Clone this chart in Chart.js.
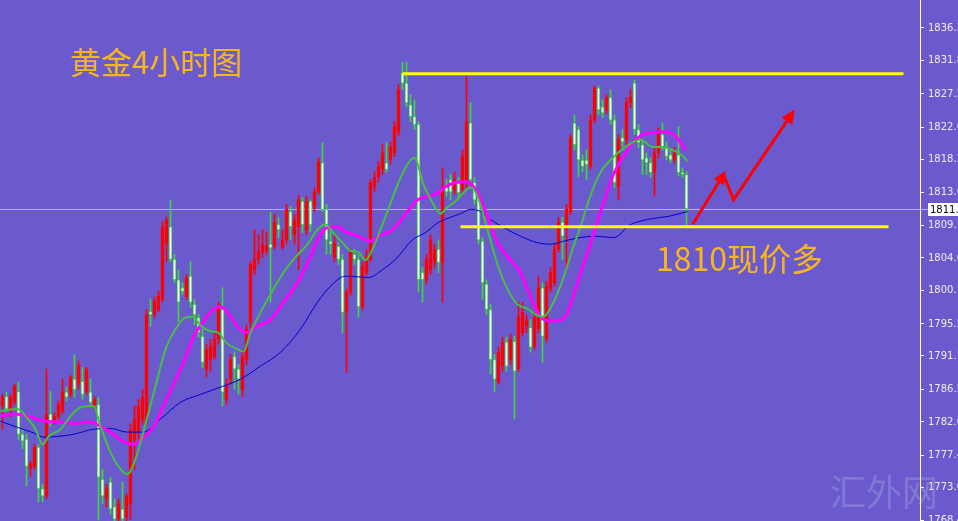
<!DOCTYPE html>
<html lang="zh">
<head>
<meta charset="UTF-8">
<title>黄金4小时图</title>
<script src="https://cdn.jsdelivr.net/npm/chart.js@4.4.1/dist/chart.umd.min.js"></script>
<style>
  html, body { margin: 0; padding: 0; background: #6a5acd; overflow: hidden; }
  canvas { display: block; }
</style>
</head>
<body>
<canvas id="goldChart" width="958" height="521"></canvas>
<script>
// 4h gold bars, index 0 = leftmost bar
const candleOpen = [
  1784.2,1785.5,1783.5,1784.7,1786.2,1780.3,1779.6,1775.6,1775.8,1778.5,
  1772.8,1771.8,1783.1,1782.1,1782.7,1783.5,1786.1,1785.8,1787.9,1787.2,
  1787.6,1786.2,1786.1,1784.3,1784.4,1774.1,1771.4,1773.7,1770.3,1768.6,
  1770.0,1768.9,1770.7,1779.6,1780.6,1782.4,1782.0,1797.2,1796.8,1797.5,
  1798.9,1806.5,1808.9,1804.4,1801.6,1800.5,1799.3,1802.1,1798.2,1796.4,
  1793.8,1789.3,1790.6,1791.0,1793.4,1797.5,1785.1,1787.9,1791.0,1789.3,
  1786.5,1790.6,1795.7,1803.0,1804.4,1805.4,1805.5,1806.5,1806.2,1809.2,
  1806.0,1807.1,1811.0,1807.8,1808.9,1812.4,1808.5,1812.4,1811.7,1813.7,
  1817.7,1811.3,1806.9,1804.7,1806.2,1804.4,1797.1,1799.9,1805.1,1804.4,
  1797.9,1802.6,1804.4,1814.4,1815.8,1816.8,1817.7,1818.1,1819.1,1821.9,
  1830.1,1828.7,1825.7,1824.1,1823.0,1802.6,1801.6,1803.0,1804.0,1805.8,
  1804.0,1814.4,1815.4,1814.0,1815.0,1814.0,1815.0,1823.2,1815.0,1813.1,
  1806.9,1801.0,1797.5,1790.6,1787.5,1789.7,1793.0,1790.6,1793.1,1789.3,
  1794.3,1795.2,1795.0,1792.4,1794.8,1800.5,1793.4,1800.3,1801.2,1805.8,
  1809.5,1808.5,1810.9,1823.2,1822.3,1818.1,1818.1,1817.2,1823.6,1828.0,
  1825.4,1825.0,1826.7,1823.6,1814.4,1821.2,1820.9,1826.0,1828.7,1822.3,
  1820.2,1818.4,1817.7,1816.4,1819.1,1821.6,1819.9,1818.8,1818.1,1818.8,
  1816.4,1816.1
];
const candleHigh = [
  1785.8,1786.1,1785.8,1787.2,1787.5,1781.0,1780.3,1776.6,1778.9,1778.9,
  1773.4,1789.3,1786.2,1783.3,1784.9,1787.9,1786.8,1788.4,1791.3,1790.4,
  1789.5,1789.5,1787.9,1785.5,1785.4,1775.5,1773.4,1774.4,1771.4,1771.4,
  1773.7,1772.1,1781.7,1784.2,1785.1,1786.5,1797.5,1798.9,1799.2,1800.0,
  1809.6,1810.3,1812.6,1805.1,1803.0,1801.2,1802.3,1804.1,1798.9,1796.8,
  1794.8,1792.7,1793.4,1794.5,1798.5,1800.5,1787.9,1791.3,1791.7,1789.9,
  1792.0,1795.4,1804.1,1808.5,1807.8,1808.5,1808.2,1810.9,1810.6,1810.2,
  1808.5,1812.0,1811.7,1810.6,1813.3,1812.9,1813.1,1812.6,1814.3,1818.4,
  1820.5,1812.0,1808.2,1807.8,1806.7,1805.1,1800.3,1805.8,1805.8,1805.1,
  1804.1,1805.8,1815.4,1816.5,1817.9,1820.2,1820.5,1820.6,1823.4,1828.5,
  1831.6,1831.6,1827.1,1826.4,1823.4,1803.3,1805.1,1807.8,1806.5,1807.1,
  1817.0,1815.4,1816.1,1816.5,1815.7,1819.5,1829.6,1826.0,1815.7,1813.6,
  1807.4,1801.6,1798.2,1791.3,1792.3,1793.7,1793.7,1794.1,1793.8,1798.5,
  1798.5,1796.8,1796.1,1797.1,1802.1,1801.2,1801.4,1803.3,1806.5,1810.2,
  1810.2,1812.0,1821.6,1824.3,1822.7,1818.8,1819.5,1824.3,1828.3,1828.3,
  1826.4,1827.1,1827.8,1824.3,1821.6,1822.3,1826.7,1827.8,1829.1,1823.0,
  1820.9,1819.1,1818.4,1819.8,1822.5,1823.2,1820.6,1819.5,1819.8,1822.7,
  1817.0,1816.5
];
const candleLow = [
  1781.0,1783.5,1782.7,1784.4,1779.6,1778.3,1773.2,1774.5,1775.5,1771.0,
  1771.0,1771.4,1781.4,1781.7,1782.4,1783.1,1784.9,1785.4,1785.4,1786.5,
  1785.1,1785.8,1784.4,1783.8,1768.5,1770.7,1770.3,1769.3,1767.9,1767.9,
  1767.9,1767.9,1768.6,1775.5,1779.6,1781.7,1781.7,1795.2,1796.4,1797.2,
  1798.6,1804.1,1804.1,1801.2,1795.9,1799.6,1798.9,1797.8,1795.4,1793.7,
  1789.5,1788.2,1789.0,1790.6,1792.7,1784.2,1784.4,1787.2,1786.5,1785.8,
  1785.5,1789.9,1795.0,1802.3,1803.7,1804.7,1805.1,1798.5,1805.8,1807.4,
  1805.8,1806.5,1807.1,1806.5,1803.0,1808.1,1807.8,1808.2,1811.0,1813.3,
  1811.0,1805.1,1805.1,1804.1,1803.7,1794.3,1788.8,1799.4,1803.7,1796.4,
  1797.5,1802.2,1804.1,1813.7,1815.1,1816.1,1816.4,1817.5,1818.6,1821.4,
  1827.8,1825.4,1823.4,1822.3,1799.9,1798.5,1801.0,1802.3,1803.3,1802.6,
  1798.5,1813.1,1812.6,1813.3,1812.9,1813.3,1814.3,1814.7,1812.0,1806.5,
  1798.9,1796.8,1788.6,1786.2,1787.2,1789.0,1789.0,1789.9,1782.4,1789.0,
  1793.8,1794.3,1791.6,1792.0,1794.3,1790.2,1793.1,1799.9,1800.7,1805.4,
  1804.4,1803.0,1810.6,1819.5,1815.8,1816.5,1815.4,1816.8,1823.2,1824.3,
  1823.9,1824.5,1823.0,1814.3,1812.6,1819.9,1820.2,1825.3,1821.6,1819.8,
  1816.1,1816.1,1815.7,1813.1,1818.4,1819.5,1818.1,1817.7,1817.7,1815.9,
  1815.7,1808.9
];
const candleClose = [
  1785.5,1783.8,1785.4,1786.9,1780.3,1779.4,1775.9,1776.2,1778.5,1772.8,
  1771.8,1783.1,1782.1,1782.8,1784.4,1786.1,1785.4,1788.2,1786.5,1789.9,
  1785.8,1789.3,1784.7,1785.1,1774.4,1771.8,1772.8,1770.0,1768.6,1770.7,
  1768.6,1771.7,1781.0,1782.4,1784.2,1785.5,1796.8,1796.8,1798.6,1799.3,
  1808.9,1809.9,1804.4,1801.6,1798.5,1800.0,1801.9,1798.5,1796.8,1794.3,
  1790.2,1792.0,1792.4,1793.4,1797.9,1786.1,1786.9,1790.6,1789.3,1787.9,
  1791.0,1794.8,1803.7,1804.4,1805.5,1806.5,1806.2,1806.0,1809.5,1808.5,
  1807.1,1811.3,1808.9,1809.9,1812.6,1809.2,1812.4,1809.2,1813.7,1817.9,
  1811.3,1807.1,1806.5,1806.7,1804.4,1797.1,1799.9,1805.4,1804.4,1797.9,
  1803.4,1804.8,1815.0,1815.7,1817.2,1819.1,1816.8,1819.9,1822.7,1827.8,
  1828.7,1826.0,1824.1,1823.0,1801.6,1801.6,1804.4,1807.1,1805.8,1804.0,
  1814.4,1813.7,1813.7,1815.4,1813.6,1818.6,1823.4,1815.4,1812.6,1807.1,
  1801.2,1797.5,1790.6,1787.9,1791.6,1793.0,1789.7,1793.4,1789.0,1796.5,
  1797.1,1796.1,1792.3,1796.4,1800.5,1793.8,1800.7,1802.6,1805.8,1809.5,
  1807.6,1811.3,1821.2,1820.2,1818.1,1817.2,1817.5,1823.6,1828.0,1825.0,
  1824.6,1826.7,1823.6,1815.0,1820.9,1820.6,1826.0,1826.8,1822.3,1820.5,
  1818.1,1817.7,1816.4,1819.1,1821.9,1819.9,1818.6,1818.1,1819.1,1816.4,
  1816.1,1811.4
];

// moving averages, sampled along the curves (bar index, price)
const maFastIdx = [-0.5,3.75,5.75,8.25,10,11.5,14.5,17,19.5,22.75,24.5,27,29.5,31.25,33.25,35.75,38.25,40.75,43.25,45.75,47.75,49.5,52,54,55.75,58.75,60.25,62,64.5,67,70.25,72.75,76.25,78.75,80.75,82.5,85,87,89,90.75,92.5,95.75,99,101.5,103,105.25,107.5,109.5,111,113.25,115.25,117,118.75,121.25,123.75,126.25,128.75,131.25,133.25,135.25,137.75,140.25,142.5,144.5,147,149.5,152,155.75,159.5,162.5,165,167.5,170,171.25];
const maFastVal = [1783.5,1783.8,1782.8,1781.0,1778.9,1780.0,1781.0,1782.8,1784.0,1784.2,1781.4,1777.8,1775.5,1774.8,1776.9,1781.7,1786.9,1792.0,1794.8,1796.4,1796.5,1795.3,1794.5,1794.3,1793.0,1792.0,1791.7,1794.3,1797.1,1799.6,1802.6,1804.4,1806.5,1808.5,1809.2,1808.2,1806.7,1805.6,1805.4,1804.3,1805.8,1810.3,1815.0,1817.7,1818.4,1814.7,1812.2,1810.7,1811.5,1812.4,1813.6,1814.3,1813.1,1808.5,1803.7,1800.3,1798.2,1797.6,1796.8,1796.5,1798.5,1801.9,1805.8,1808.9,1813.2,1816.4,1818.1,1819.9,1820.9,1819.9,1819.9,1819.5,1818.7,1817.9];
const maMidIdx = [-0.5,3.25,7,10.75,14.5,18.25,22,24.5,27,30,32.75,35.25,37.75,40.25,42.75,45.25,47.75,50.25,52.75,54.5,56.25,58.75,60.75,63.75,67,70.25,73.75,77,78.75,81.25,83.75,85.75,89,92,94,97.5,100.75,103.75,106.5,109,110.75,113.25,116.25,118.75,121.25,123.75,126.25,129.5,132,134.5,137,139.5,141.25,143.25,146.5,149.5,152.75,156.25,160,163.25,165.75,168.25,170.75];
const maMidVal = [1782.8,1783.1,1782.7,1782.1,1782.0,1781.8,1782.0,1781.4,1780.6,1779.4,1778.9,1779.9,1781.3,1784.2,1787.2,1790.2,1793.7,1795.9,1797.5,1797.9,1797.1,1795.2,1794.3,1795.2,1796.1,1798.5,1801.2,1804.8,1807.1,1808.8,1808.9,1808.2,1807.6,1806.9,1807.6,1808.5,1810.6,1812.6,1813.1,1813.6,1814.4,1815.0,1815.1,1813.6,1810.3,1806.7,1804.8,1802.6,1799.3,1796.5,1795.9,1796.0,1797.1,1800.3,1805.8,1810.9,1816.1,1819.5,1821.6,1821.9,1822.0,1821.4,1819.5];
const maSlowIdx = [-0.5,4.5,7.75,10.25,13.75,17.75,22.75,27,31.25,35.25,39.5,44.5,49.5,54.5,59.5,64.5,69.5,74.5,78.75,82,85.75,91.5,95,98.25,102.5,105.75,109,112.5,114.5,117,119.5,122,125.25,129.5,133.75,137,140.25,143.25,148.25,152.75,157,161.25,167,171.25];
const maSlowVal = [1782.1,1781.1,1780.5,1779.9,1780.0,1780.3,1781.0,1781.1,1780.6,1780.6,1782.4,1784.7,1785.8,1786.8,1787.9,1789.7,1791.6,1794.8,1798.5,1800.7,1802.1,1801.9,1803.0,1804.4,1807.1,1808.1,1809.5,1810.3,1810.7,1811.3,1811.0,1809.9,1808.8,1807.6,1806.7,1806.5,1806.9,1807.3,1807.6,1807.4,1809.2,1809.9,1810.4,1811.0];

// price axis labels as printed by the terminal
const yTicks = [1836.3,1831.8,1827.2,1822.6,1818.2,1813.6,1809.1,1804.6,1800.1,1795.5,1791.1,1786.5,1782.0,1777.4,1773.0,1768.4];
const lastPrice = 1811.4;

// hand-drawn marks: resistance, support, the zigzag arrow
const resistIdx = [100, 225.25];
const resistVal = [1829.97, 1829.97];
const supportIdx = [114.5, 221.5];
const supportVal = [1808.9, 1808.9];
const arrowIdx = [172.5, 180.25, 182.75, 197.5];
const arrowVal = [1809.2, 1816.1, 1812.6, 1824.6];

const titleText = '黄金4小时图';
const noteText = '1810现价多';

const UP = '#ff0000';
const DOWN = '#3ad83a';

const pairs = (xs, ys) => xs.map((x, k) => ({ x: x, y: ys[k] }));
const isUp = candleOpen.map((o, i) => candleClose[i] >= o);
const bodyData = candleOpen.map((o, i) => ({ x: i, y: [o, candleClose[i]] }));
const wickData = candleOpen.map((o, i) => ({ x: i, y: [candleLow[i], candleHigh[i]] }));

function arrowHead(ctx, from, to, len, half) {
  const ang = Math.atan2(to.y - from.y, to.x - from.x);
  const tip = { x: to.x + Math.cos(ang) * 4, y: to.y + Math.sin(ang) * 4 };
  ctx.beginPath();
  ctx.moveTo(tip.x, tip.y);
  ctx.lineTo(tip.x - Math.cos(ang) * len + Math.sin(ang) * half, tip.y - Math.sin(ang) * len - Math.cos(ang) * half);
  ctx.lineTo(tip.x - Math.cos(ang) * len - Math.sin(ang) * half, tip.y - Math.sin(ang) * len + Math.cos(ang) * half);
  ctx.closePath();
  ctx.fill();
}

const overlay = {
  id: 'overlay',
  beforeDraw(chart) {
    const ctx = chart.ctx;
    ctx.save();
    ctx.fillStyle = '#6a5acd';
    ctx.fillRect(0, 0, chart.width, chart.height);
    ctx.restore();
  },
  beforeDatasetsDraw(chart) {
    const ctx = chart.ctx;
    const y = Math.round(chart.scales.y.getPixelForValue(lastPrice)) + 0.5;
    ctx.save();
    ctx.strokeStyle = 'rgba(200,200,200,0.85)';
    ctx.lineWidth = 1;
    ctx.beginPath();
    ctx.moveTo(0, y);
    ctx.lineTo(chart.chartArea.right + 8, y);
    ctx.stroke();
    ctx.restore();
  },
  afterDatasetsDraw(chart) {
    const ctx = chart.ctx;
    const sx = chart.scales.x, sy = chart.scales.y;
    const p = arrowIdx.map((v, k) => ({ x: sx.getPixelForValue(v), y: sy.getPixelForValue(arrowVal[k]) }));
    ctx.save();
    ctx.fillStyle = UP;
    arrowHead(ctx, p[0], p[1], 13, 6);
    arrowHead(ctx, p[2], p[3], 14, 6.5);
    ctx.restore();
  },
  afterDraw(chart) {
    const ctx = chart.ctx;
    const sy = chart.scales.y;
    ctx.save();
    // captions
    ctx.fillStyle = '#f7b61d';
    ctx.textBaseline = 'middle';
    ctx.font = '31px "Noto Sans CJK SC"';
    ctx.fillText(titleText, 70, 62);
    ctx.font = '32px "Noto Sans CJK SC"';
    ctx.fillText(noteText, 656, 259);
    // watermark
    ctx.fillStyle = 'rgba(225,225,240,0.22)';
    ctx.font = '36px "Noto Sans CJK SC"';
    ctx.fillText('汇外网', 830, 492);
    // current price tag
    const y = Math.round(sy.getPixelForValue(lastPrice));
    ctx.fillStyle = '#ffffff';
    ctx.fillRect(928, y - 6, 30, 13);
    ctx.fillStyle = '#000000';
    ctx.font = '10px "DejaVu Sans"';
    ctx.fillText(lastPrice.toFixed(1), 930, y + 1);
    ctx.restore();
  }
};

const lineBase = { type: 'line', pointRadius: 0, fill: false, parsing: true };

new Chart(document.getElementById('goldChart'), {
  type: 'bar',
  data: {
    datasets: [
      Object.assign({}, lineBase, { label: 'resistance', data: pairs(resistIdx, resistVal), borderColor: '#ffff00', borderWidth: 3, order: 0 }),
      Object.assign({}, lineBase, { label: 'support', data: pairs(supportIdx, supportVal), borderColor: '#ffff00', borderWidth: 3, order: 0 }),
      Object.assign({}, lineBase, { label: 'arrow', data: pairs(arrowIdx, arrowVal), borderColor: UP, borderWidth: 3, order: 0, clip: false }),
      Object.assign({}, lineBase, { label: 'MA fast', data: pairs(maFastIdx, maFastVal), borderColor: '#44c044', borderWidth: 2, cubicInterpolationMode: 'monotone', order: 1 }),
      Object.assign({}, lineBase, { label: 'MA mid', data: pairs(maMidIdx, maMidVal), borderColor: '#ff00ff', borderWidth: 3, cubicInterpolationMode: 'monotone', order: 2 }),
      Object.assign({}, lineBase, { label: 'MA slow', data: pairs(maSlowIdx, maSlowVal), borderColor: '#0000cd', borderWidth: 1, cubicInterpolationMode: 'monotone', order: 3 }),
      {
        label: 'body', data: bodyData, grouped: false, barThickness: 3, minBarLength: 1,
        backgroundColor: isUp.map(u => u ? UP : '#ffffff'),
        borderColor: isUp.map(u => u ? UP : DOWN),
        borderWidth: 1, borderSkipped: false, order: 5
      },
      {
        label: 'wick', data: wickData, grouped: false, barThickness: 1,
        backgroundColor: isUp.map(u => u ? UP : DOWN), borderWidth: 0, order: 6
      }
    ]
  },
  options: {
    responsive: false,
    animation: false,
    events: [],
    layout: { padding: 0 },
    plugins: { legend: { display: false }, tooltip: { enabled: false } },
    scales: {
      x: { type: 'linear', min: -0.625, max: 229.375, display: false, offset: false },
      y: {
        position: 'right',
        min: 1768.35,
        max: 1840.15,
        afterBuildTicks: s => { s.ticks = yTicks.map(v => ({ value: v })); },
        afterFit: s => { s.width = 38; s.paddingTop = 0; s.paddingBottom = 0; },
        ticks: {
          color: '#eeeeee', padding: 4, autoSkip: false,
          font: { family: 'DejaVu Sans', size: 10 },
          callback: v => Number(v).toFixed(1)
        },
        grid: { drawOnChartArea: false, drawTicks: true, tickLength: 4, color: '#ffffff' },
        border: { display: true, color: '#ffffff', width: 1 }
      }
    }
  },
  plugins: [overlay]
});
</script>
</body>
</html>
